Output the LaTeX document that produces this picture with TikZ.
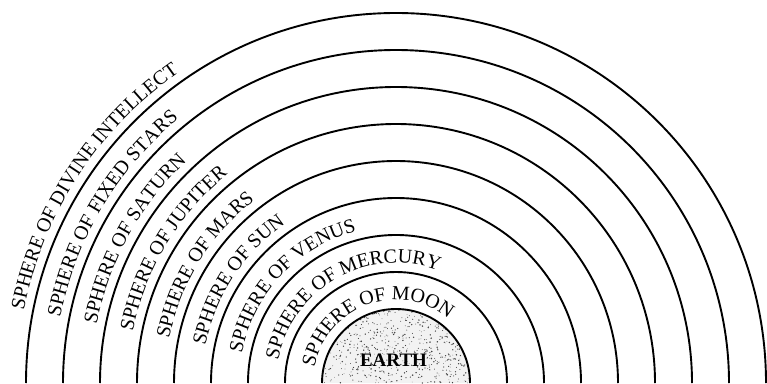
\documentclass[tikz,border=0pt]{standalone}
\usepackage{fontspec}
\setmainfont{Liberation Serif}
\usetikzlibrary{decorations.text}
\newcommand\labelfont{\fontsize{20pt}{24pt}\selectfont}
\begin{document}
\begin{tikzpicture}[x=1pt,y=1pt,
  sphere/.style={line width=1.9pt},
  earthfill/.style={fill=black!5},
  lbl/.style={decorate, decoration={text along path, text align=left, text={|\labelfont|#1}}}]
\useasboundingbox (0,0) rectangle (767,383);
\begin{scope}[shift={(396,0)}]
  % Earth
  \fill[earthfill] (0:74pt) arc[start angle=0,end angle=180,radius=74pt] -- cycle;
  \pgfmathsetseed{7}
  \foreach \i in {1,...,500}{
    \pgfmathsetmacro\aa{rnd*180}
    \pgfmathsetmacro\dd{73*sqrt(rnd)}
    \pgfmathsetmacro\ss{0.3+0.5*rnd}
    \fill[black!75] (\aa:\dd pt) circle (\ss pt);
  }
  \node[font=\fontsize{19pt}{19pt}\selectfont\bfseries] (earth) at (-2.5,23) {EARTH};
  % spheres
  \foreach \k in {2,...,10}{
    \pgfmathsetmacro\r{37*\k}
    \draw[sphere] (0:\r pt) arc[start angle=0,end angle=180,radius=\r pt];
  }
  % labels
  \path[lbl={SPHERE OF MOON}] (169:83pt) arc[start angle=169,end angle=-20,radius=83pt];
  \path[lbl={SPHERE OF MERCURY}] (169:120pt) arc[start angle=169,end angle=-20,radius=120pt];
  \path[lbl={SPHERE OF VENUS}] (169:157pt) arc[start angle=169,end angle=-20,radius=157pt];
  \path[lbl={SPHERE OF SUN}] (169:194pt) arc[start angle=169,end angle=-20,radius=194pt];
  \path[lbl={SPHERE OF MARS}] (169:231pt) arc[start angle=169,end angle=-20,radius=231pt];
  \path[lbl={SPHERE OF JUPITER}] (169:268pt) arc[start angle=169,end angle=-20,radius=268pt];
  \path[lbl={SPHERE OF SATURN}] (169:305pt) arc[start angle=169,end angle=-20,radius=305pt];
  \path[lbl={SPHERE OF FIXED STARS}] (169:342pt) arc[start angle=169,end angle=-20,radius=342pt];
  \path[lbl={SPHERE OF DIVINE INTELLECT}] (169:379pt) arc[start angle=169,end angle=-20,radius=379pt];
\end{scope}
\end{tikzpicture}
\end{document}
